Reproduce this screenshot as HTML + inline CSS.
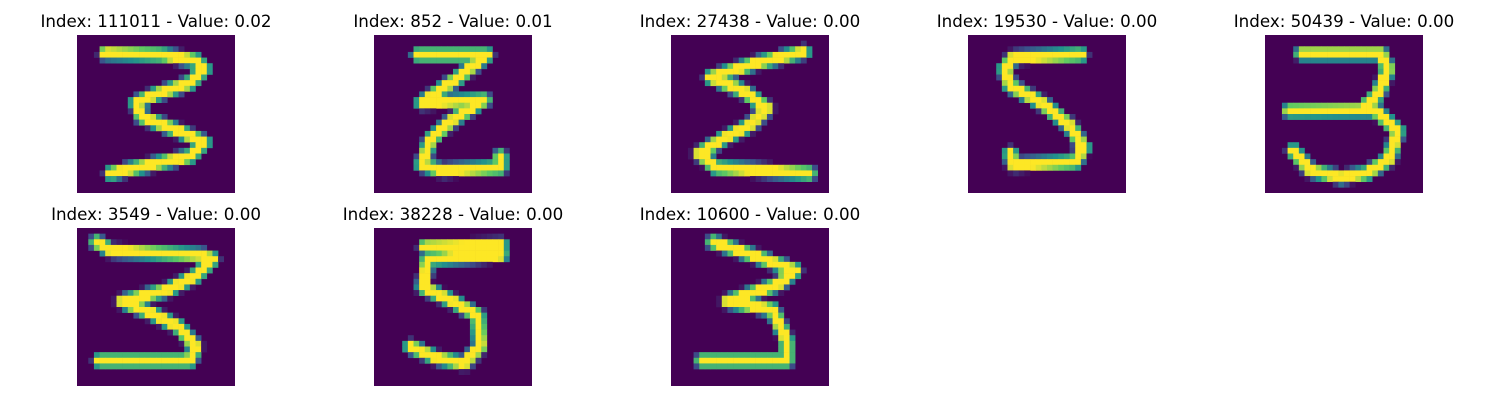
<!DOCTYPE html>
<html><head><meta charset="utf-8">
<style>
body{margin:0;background:#fff;width:1500px;height:400px;overflow:hidden;font-family:"DejaVu Sans","Liberation Sans",sans-serif}
#fig{position:absolute;left:0;top:0}
</style></head>
<body>
<svg id="fig" width="1500" height="400"></svg>
<script>
const indices=[111011,852,27438,19530,50439,3549,38228,10600];
const values=[0.02,0.01,0.00,0.00,0.00,0.00,0.00,0.00];
const stroke0=[[5,3.2],[15,3.5],[21,4.5],[22.5,6],[20,8.5],[14,10.5],[10.5,12],[11.5,14.5],[18,17],[22.5,19],[20,21.5],[13,23],[6,24.5]];
const stroke1=[[7.8,3.5],[20,3.5],[15,7.5],[8.5,12],[19.5,11.5],[14,15],[10,18.5],[8.5,23],[12,24],[22.4,23.5],[22.4,21.5]];
const stroke2=[[23.5,3],[15,5],[7,7.5],[13,10],[17,13],[14,16],[9,18.5],[5,21],[8,23.5],[24.5,24.5]];
const stroke3=[[20,3.5],[8,4],[6.5,6],[7.5,9],[13,12],[18,16],[20.5,20],[19,22.5],[8,23],[7.5,21]];
const stroke4=[[6.5,3.3],[20.5,3.3],[21.8,6],[20,10.5],[17,13.3],[4.3,13.4],[19.5,13.3],[23.5,17],[22,22],[18,24.5],[13.5,25.2],[8,24],[5,20.5]];
const stroke5=[[3.5,2.5],[6,4],[22,4.8],[24,5.5],[21,8.5],[16,11],[8,13],[13,15],[18,17.5],[21,21],[20,23.5],[4,23.5]];
const stroke6=[[22.5,3],[9,3.3],[22.5,4.8],[9.5,5.5],[8.7,10.5],[14,13],[18.4,15.5],[18.8,21],[16,24],[11,23],[6.5,21]];
const stroke7=[[7.5,2.5],[15,5],[22,7.5],[19,10],[10,13],[18,14.5],[20.5,20],[20.5,23.5],[5.5,23.5]];
const strokes=[stroke0,stroke1,stroke2,stroke3,stroke4,stroke5,stroke6,stroke7];

const NS="http://www.w3.org/2000/svg";
const svg=document.getElementById('fig');
const colX=[77,374,671,968,1265], rowY=[35,228], S=158, N=28, c=S/N;
const vir=[[68,1,84],[59,82,139],[33,145,140],[94,201,98],[253,231,37]];
function col(t){t=Math.max(0,Math.min(1,t));const p=t*4,i=Math.min(3,Math.floor(p)),f=p-i;
const a=vir[i],b=vir[i+1];return `rgb(${a.map((v,k)=>Math.round(v+(b[k]-v)*f)).join(',')})`;}
function segD(px,py,a,b){const dx=b[0]-a[0],dy=b[1]-a[1];let t=((px-a[0])*dx+(py-a[1])*dy)/(dx*dx+dy*dy||1);
t=Math.max(0,Math.min(1,t));return Math.hypot(px-a[0]-t*dx,py-a[1]-t*dy);}
strokes.forEach((pts,k)=>{
  const x0=colX[k%5],y0=rowY[Math.floor(k/5)];
  const g=document.createElementNS(NS,'g');
  
  
  const bg=document.createElementNS(NS,'rect');
  bg.setAttribute('x',x0);bg.setAttribute('y',y0);bg.setAttribute('width',S);bg.setAttribute('height',S);bg.setAttribute('fill',col(0));
  g.appendChild(bg);
  for(let r=0;r<N;r++)for(let q=0;q<N;q++){
    let d=1e9;for(let i=0;i<pts.length-1;i++)d=Math.min(d,segD(q+0.5,r+0.5,pts[i],pts[i+1]));
    const v=d<0.65?1:Math.max(0,1-(d-0.65)/1.0);
    if(v<=0.02)continue;
    const cell=document.createElementNS(NS,'rect');
    
    
    cell.setAttribute('x',(x0+q*c).toFixed(2));cell.setAttribute('y',(y0+r*c).toFixed(2));
    cell.setAttribute('width',(c+0.3).toFixed(2));cell.setAttribute('height',(c+0.3).toFixed(2));
    cell.setAttribute('fill',col(v));g.appendChild(cell);
  }
  svg.appendChild(g);
  const t=document.createElementNS(NS,'text');
  
  
  t.setAttribute('x',x0+S/2);t.setAttribute('y',y0-8);t.setAttribute('text-anchor','middle');
  t.setAttribute('font-size','16.7');t.setAttribute('fill','#000');
  t.textContent=`Index: ${indices[k]} - Value: ${values[k].toFixed(2)}`;
  svg.appendChild(t);
});
</script>
</body></html>
